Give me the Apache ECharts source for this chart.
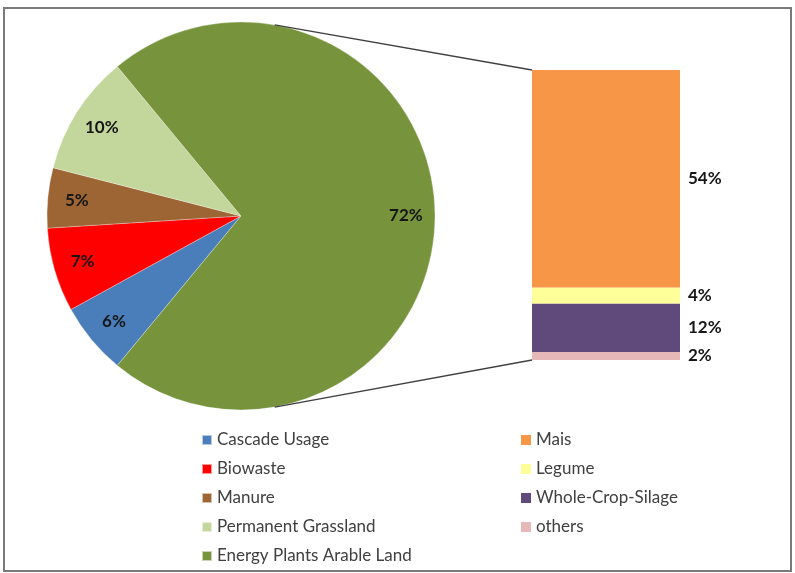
<!DOCTYPE html>
<html>
<head>
<meta charset="utf-8">
<script src="https://cdn.jsdelivr.net/npm/echarts@6/dist/echarts.min.js"></script>
<style>
html,body{margin:0;padding:0;background:#fff;}
#main{width:795px;height:573px;}
</style>
</head>
<body>
<div id="main"></div>
<script>
// ---- data ----
var pieNames = ['Cascade Usage', 'Biowaste', 'Manure', 'Permanent Grassland', 'Energy Plants Arable Land'];
var pieValues = [6, 7, 5, 10, 72];
var barNames = ['Mais', 'Legume', 'Whole-Crop-Silage', 'others'];
var barValues = [54, 4, 12, 2];

// ---- styles ----
var pieColors = ['#4A7EBB', '#FF0000', '#9C6533', '#C3D69B', '#77933C'];
var barColors = ['#F79646', '#FFFF99', '#604A7B', '#E6B9B8'];
var FONT = 'Lato';
var pieCenter = [241, 216];
var pieRadius = 194;
var labelRadiusFrac = 0.85;
var connectorAngleDeg = 80;

var chart = echarts.init(document.getElementById('main'), null, {renderer: 'canvas'});

var barTotal = barValues.reduce(function (a, b) { return a + b; }, 0);

var pieData = pieNames.map(function (n, i) {
  return {name: n, value: pieValues[i], itemStyle: {color: pieColors[i]}};
});

var labelStyle = {
  fontFamily: FONT,
  fontWeight: 'bold',
  fontSize: 17,
  color: '#161616'
};

// stack from bottom: others, Whole-Crop-Silage, Legume, Mais
var barSeries = [];
for (var i = barNames.length - 1; i >= 0; i--) {
  barSeries.push({
    type: 'bar',
    name: barNames[i],
    stack: 'split',
    xAxisIndex: 0,
    yAxisIndex: 0,
    data: [barValues[i]],
    barWidth: '100%',
    itemStyle: {color: barColors[i]},
    label: Object.assign({show: true, position: 'right', distance: 8, formatter: '{c}%'}, labelStyle),
    animation: false
  });
}

var legendText = {fontFamily: FONT, fontSize: 17, color: '#404040', lineHeight: 20};

var option = {
  animation: false,
  backgroundColor: '#ffffff',
  grid: {left: 532, top: 70, width: 148, height: 290},
  xAxis: {type: 'category', data: ['split'], show: false, boundaryGap: true},
  yAxis: {type: 'value', min: 0, max: barTotal, show: false},
  legend: [
    {
      orient: 'vertical', left: 196, top: 425, height: 150,
      itemWidth: 10, itemHeight: 10, itemGap: 9,
      icon: 'rect',
      data: pieNames,
      textStyle: legendText,
      selectedMode: false
    },
    {
      orient: 'vertical', left: 516, top: 425, height: 150,
      itemWidth: 10, itemHeight: 10, itemGap: 9,
      icon: 'rect',
      data: barNames,
      textStyle: legendText,
      selectedMode: false
    }
  ],
  series: [{
    type: 'pie',
    center: pieCenter,
    radius: pieRadius,
    startAngle: 230.4,
    clockwise: true,
    data: pieData,
    itemStyle: {borderColor: 'rgba(255,255,255,0.6)', borderWidth: 0.5},
    label: Object.assign({show: true, position: 'inside', formatter: '{c}%'}, labelStyle),
    labelLine: {show: false},
    labelLayout: function (params) {
      var data = chart.getModel().getSeriesByIndex(0).getData();
      var l = data.getItemLayout(params.dataIndex);
      var m = (l.startAngle + l.endAngle) / 2;
      var rr = l.r * labelRadiusFrac;
      return {x: l.cx + rr * Math.cos(m), y: l.cy + rr * Math.sin(m)};
    },
    animation: false
  }].concat(barSeries)
};

chart.setOption(option);

// connector lines derived from pie geometry and bar pixel extents
var grid = chart.getModel().getComponent('grid').coordinateSystem.getRect();
var yTop = chart.convertToPixel({yAxisIndex: 0}, barTotal);
var yBot = chart.convertToPixel({yAxisIndex: 0}, 0);
var a = connectorAngleDeg * Math.PI / 180;
var px = pieCenter[0] + pieRadius * Math.cos(a);
var pyTop = pieCenter[1] - pieRadius * Math.sin(a);
var pyBot = pieCenter[1] + pieRadius * Math.sin(a);

chart.setOption({
  graphic: [
    {type: 'rect', shape: {x: 4, y: 8, width: 787, height: 563}, style: {fill: 'none', stroke: '#7a7a7a', lineWidth: 2}, z: 100, silent: true},
    {type: 'line', shape: {x1: px, y1: pyTop, x2: grid.x, y2: yTop}, style: {stroke: '#404040', lineWidth: 1.3}, z: 50, silent: true},
    {type: 'line', shape: {x1: px, y1: pyBot, x2: grid.x, y2: yBot}, style: {stroke: '#404040', lineWidth: 1.3}, z: 50, silent: true}
  ]
});
</script>
</body>
</html>
